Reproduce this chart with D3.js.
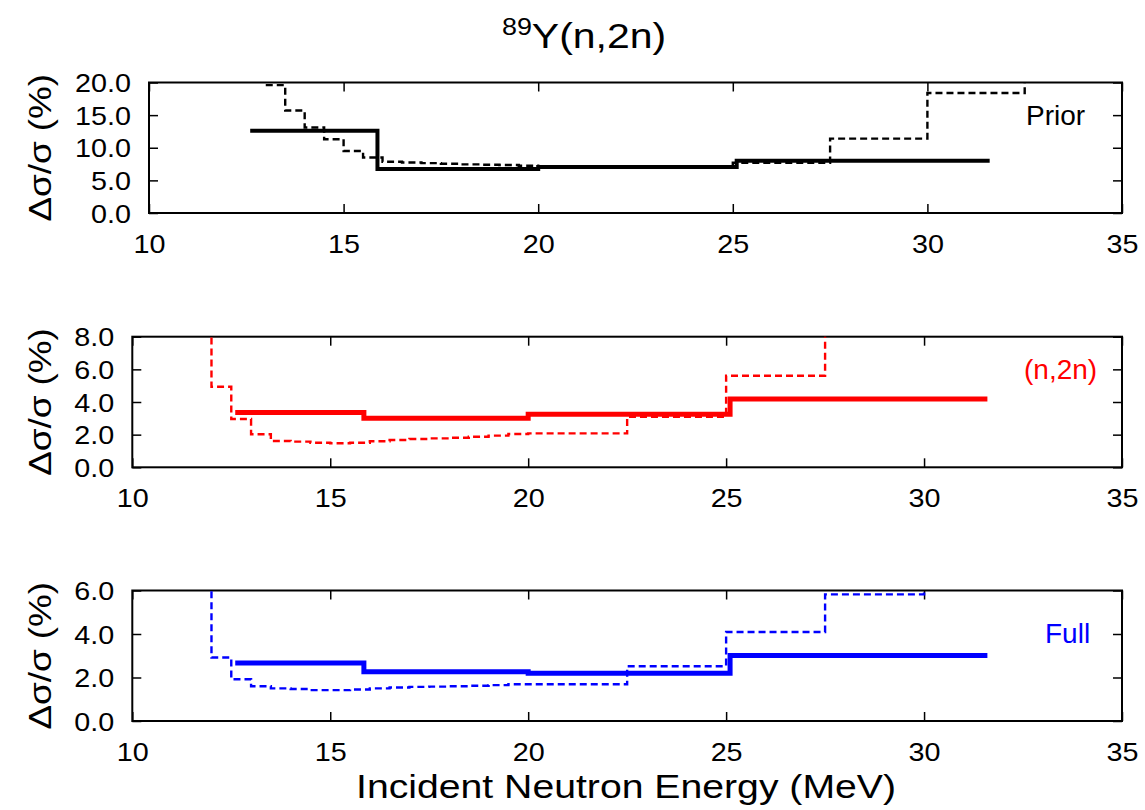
<!DOCTYPE html>
<html><head><meta charset="utf-8">
<script src="https://cdn.jsdelivr.net/npm/d3@7"></script>
<style>
html,body{margin:0;padding:0;background:#fff;}
text{font-family:"Liberation Sans",Arial,Helvetica,sans-serif;}
</style></head>
<body><svg id="c" width="1145" height="810"></svg>
<script>
// ---------------- data ----------------
const xTicks = [10, 15, 20, 25, 30, 35];
const topYTicks = [0, 5, 10, 15, 20];
const midYTicks = [0, 2, 4, 6, 8];
const botYTicks = [0, 2, 4, 6];

// Prior panel (black)
const priorSolidE = [12.6, 15.87, 20.0, 25.1, 31.6];
const priorSolidV = [12.6, 6.75, 7.05, 8.0];
const priorDashE = [13.0, 13.5, 14.0, 14.5, 15.0, 15.5, 16.0, 16.5, 17.0, 17.5, 18.0, 18.5, 19.0, 19.5, 20.0, 22.5, 25.0, 27.5, 30.0, 32.5];
const priorDashV = [19.6, 15.7, 13.1, 11.3, 9.5, 8.5, 7.85, 7.75, 7.65, 7.55, 7.45, 7.4, 7.35, 7.25, 7.1, 7.1, 7.7, 11.4, 18.4];
const priorDashTail = 25;

// (n,2n) panel (red)
const n2nSolidE = [12.6, 15.85, 20.0, 25.1, 31.6];
const n2nSolidV = [3.35, 3.0, 3.25, 4.18];
const n2nDashE = [12.0, 12.5, 13.0, 13.5, 14.0, 14.5, 15.0, 15.5, 16.0, 16.5, 17.0, 17.5, 18.0, 18.5, 19.0, 19.5, 20.0, 22.5, 25.0, 27.5];
const n2nDashV = [4.93, 2.96, 2.02, 1.61, 1.57, 1.5, 1.47, 1.5, 1.6, 1.67, 1.73, 1.77, 1.81, 1.87, 1.94, 2.04, 2.08, 3.1, 5.61];
const n2nDashHead = 12, n2nDashTail = 12;

// Full panel (blue)
const fullSolidE = [12.6, 15.85, 20.0, 25.1, 31.6];
const fullSolidV = [2.67, 2.26, 2.2, 3.01];
const fullDashE = [12.0, 12.5, 13.0, 13.5, 14.0, 14.5, 15.0, 15.5, 16.0, 16.5, 17.0, 17.5, 18.0, 18.5, 19.0, 19.5, 20.0, 22.5, 25.0, 27.5, 30.0];
const fullDashV = [2.92, 1.92, 1.60, 1.50, 1.47, 1.42, 1.42, 1.45, 1.50, 1.54, 1.57, 1.58, 1.60, 1.62, 1.65, 1.69, 1.69, 2.52, 4.09, 5.82];
const fullDashHead = 9, fullDashTail = 9;

// ---------------- drawing ----------------
const svg = d3.select("#c");
svg.append("rect").attr("width",1145).attr("height",810).attr("fill","#fff");

const SX = 1.15; // horizontal stretch of glyphs
const tickFont = 25;

function stepPoints(E, V, head, tail){
  const pts = [];
  if (head !== undefined) pts.push([E[0], head]);
  V.forEach((v,i)=>pts.push([E[i], v]));
  pts.push([E[E.length-1], V[V.length-1]]);
  if (tail !== undefined) pts.push([E[E.length-1], tail]);
  return pts;
}

function panel(cfg){
  const x = d3.scaleLinear().domain([10,35]).range([cfg.left, 1122]);
  const y = d3.scaleLinear().domain([0, cfg.ymax]).range([cfg.bottom, cfg.top]);
  const g = svg.append("g");
  const id = "clip"+cfg.name;
  svg.append("clipPath").attr("id", id).append("rect")
    .attr("x", cfg.left).attr("y", cfg.top).attr("width", 1122-cfg.left).attr("height", cfg.bottom-cfg.top);

  const tl = 9;
  const axB = g.append("g").attr("transform",`translate(0,${cfg.bottom})`)
    .call(d3.axisBottom(x).tickValues(xTicks).tickSize(-tl).tickSizeOuter(0).tickFormat(d3.format("d")));
  const axT = g.append("g").attr("transform",`translate(0,${cfg.top})`)
    .call(d3.axisTop(x).tickValues(xTicks).tickSize(-tl).tickSizeOuter(0).tickFormat(""));
  const axL = g.append("g").attr("transform",`translate(${cfg.left},0)`)
    .call(d3.axisLeft(y).tickValues(cfg.yTicks).tickSize(-tl).tickSizeOuter(0).tickFormat(d3.format(".1f")));
  const axR = g.append("g").attr("transform",`translate(1122,0)`)
    .call(d3.axisRight(y).tickValues(cfg.yTicks).tickSize(-tl).tickSizeOuter(0).tickFormat(""));
  [axB,axT,axL,axR].forEach(a=>{
    a.select(".domain").remove();
    a.selectAll("line").attr("stroke","#000").attr("stroke-width",1.5);
  });
  axB.selectAll("text").attr("font-size",tickFont).attr("fill","#000")
    .attr("y",0).attr("dy",0)
    .attr("transform",`translate(0,40) scale(${SX},1)`);
  axL.selectAll("text").attr("font-size",tickFont).attr("fill","#000")
    .attr("x",0).attr("dy",0).attr("text-anchor","end")
    .attr("transform",`translate(-18,9) scale(${SX},1)`);
  g.append("rect").attr("x",cfg.left).attr("y",cfg.top)
    .attr("width",1122-cfg.left).attr("height",cfg.bottom-cfg.top)
    .attr("fill","none").attr("stroke","#000").attr("stroke-width",2);

  const line = d3.line().x(d=>x(d[0])).y(d=>y(d[1])).curve(d3.curveStepAfter);
  const lg = g.append("g").attr("clip-path",`url(#${id})`);
  lg.append("path").datum(stepPoints(cfg.dashE, cfg.dashV, cfg.dashHead, cfg.dashTail))
    .attr("d", line).attr("fill","none").attr("stroke",cfg.color)
    .attr("stroke-width",2.4).attr("stroke-dasharray","7,4");
  lg.append("path").datum(stepPoints(cfg.solidE, cfg.solidV))
    .attr("d", line).attr("fill","none").attr("stroke",cfg.color)
    .attr("stroke-width",cfg.solidW).attr("stroke-linejoin","miter");

  const cy = (cfg.top+cfg.bottom)/2;
  g.append("text").attr("transform",`translate(51,${cy}) rotate(-90) scale(${SX},1)`)
    .attr("text-anchor","middle").attr("font-size",32).attr("fill","#000")
    .text("Δσ/σ (%)");
  g.append("text").attr("x",cfg.legX).attr("y",cfg.legY)
    .attr("font-size",28).attr("fill",cfg.color).text(cfg.legend);
}

panel({name:"prior", left:149, top:82.5, bottom:213, ymax:20, yTicks:topYTicks,
  solidE:priorSolidE, solidV:priorSolidV, dashE:priorDashE, dashV:priorDashV,
  dashHead:undefined, dashTail:priorDashTail, color:"#000", solidW:4,
  legend:"Prior", legX:1026, legY:125});
panel({name:"n2n", left:132.3, top:336.7, bottom:467.3, ymax:8, yTicks:midYTicks,
  solidE:n2nSolidE, solidV:n2nSolidV, dashE:n2nDashE, dashV:n2nDashV,
  dashHead:n2nDashHead, dashTail:n2nDashTail, color:"#ff0000", solidW:5,
  legend:"(n,2n)", legX:1024, legY:379});
panel({name:"full", left:132.3, top:590.5, bottom:721, ymax:6, yTicks:botYTicks,
  solidE:fullSolidE, solidV:fullSolidV, dashE:fullDashE, dashV:fullDashV,
  dashHead:fullDashHead, dashTail:fullDashTail, color:"#0000ff", solidW:5,
  legend:"Full", legX:1045, legY:643});

// title
const t = svg.append("text").attr("transform",`translate(584,48) scale(1.17,1)`)
  .attr("text-anchor","middle").attr("font-size",35).attr("fill","#000");
t.append("tspan").attr("font-size",23).attr("dy",-13).text("89");
t.append("tspan").attr("dy",13).text("Y(n,2n)");

// x label
svg.append("text").attr("transform",`translate(626,798) scale(1.17,1)`)
  .attr("text-anchor","middle").attr("font-size",33.5).attr("fill","#000")
  .text("Incident Neutron Energy (MeV)");
</script></body></html>
